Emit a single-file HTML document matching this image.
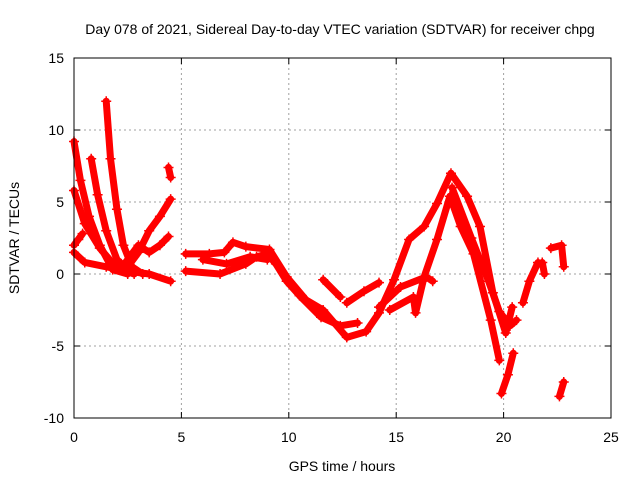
<!DOCTYPE html>
<html><head><meta charset="utf-8"><style>
body{margin:0;background:#fff;width:640px;height:480px;overflow:hidden}
svg text{font-family:"Liberation Sans",sans-serif;font-size:14px;fill:#000}
</style></head><body>
<svg id="c" width="640" height="480"></svg>
<script>
const xTicks=[0,5,10,15,20,25];
const yTicks=[-10,-5,0,5,10,15];
const trackA=[[0,9.2],[0.3,6.5],[0.7,4],[1.2,2],[1.8,0.3],[2.5,0]];
const trackB=[[0,5.8],[0.5,3.5],[1.2,1.8],[2,0.4],[2.8,0]];
const trackC=[[0.8,8],[1.1,5.5],[1.5,3],[2,1],[2.5,0.3]];
const trackD=[[1.5,12],[1.7,8],[2,4.5],[2.3,2],[2.7,0.5],[3.2,0]];
const trackE=[[0,1.5],[0.5,0.8],[1.5,0.5],[2.5,0.2],[3.5,0],[4.5,-0.5]];
const trackF=[[0,2],[0.4,2.8],[0.2,2.4]];
const trackG=[[2.5,0.5],[3,1.5],[3.5,3],[4,4],[4.5,5.2]];
const trackH=[[2.3,0.6],[3,2],[3.5,1.5],[4,2],[4.4,2.6]];
const trackI=[[4.4,7.4],[4.5,6.7]];
const trackJ=[[5.2,1.4],[6.3,1.4],[7.0,1.5],[7.4,2.2],[8.0,1.9],[9.1,1.7],[9.9,-0.2],[10.8,-1.8],[11.6,-2.5],[12.7,-4.4],[13.6,-4.0],[14.2,-2.7],[14.9,-0.4],[15.6,2.4],[16.3,3.3],[16.9,4.9],[17.55,7.0],[18.3,5.4],[18.9,3.3],[19.5,-1.3],[20.1,-4.1],[20.4,-2.3]];
const trackK=[[5.2,0.2],[6.8,0],[8.0,0.7],[8.5,1.2],[9.0,1.4],[9.4,0.7],[9.9,-0.5],[10.5,-1.5],[11.5,-3],[12.4,-3.6],[13.2,-3.4]];
const trackL=[[14.7,-2.5],[15.8,-1.6],[15.9,-2.7],[16.3,-0.2],[16.9,2.4],[17.5,5.4],[18.0,3.3],[18.6,1.4],[19.4,-3.2],[19.8,-6]];
const trackM=[[19.9,-8.3],[20.2,-7],[20.45,-5.5]];
const trackN=[[20.9,-2],[21.2,-0.5],[21.6,0.8]];
const trackO=[[21.8,0.8],[21.9,0]];
const trackP=[[22.2,1.8],[22.7,2],[22.8,0.5]];
const trackQ=[[22.6,-8.5],[22.8,-7.5]];
const trackR=[[14.2,-2.3],[15.2,-0.9],[16.4,-0.2],[16.7,-0.5]];
const trackS=[[11.6,-0.4],[12.4,-1.6]];
const trackT=[[12.7,-2],[13.5,-1.2],[14.2,-0.6]];
const trackU=[[6.0,1.0],[7.1,0.7],[8.2,1.2],[9.0,1.0]];
const trackV=[[17.6,6.0],[18.5,2.5],[19.3,-0.5],[19.8,-2.6],[20.3,-3.6],[20.6,-3.2]];
const tracks=[trackA,trackB,trackC,trackD,trackE,trackF,trackG,trackH,trackI,trackJ,trackK,trackL,trackM,trackN,trackO,trackP,trackQ,trackR,trackS,trackT,trackU,trackV];
const L=74,R=611,T=58,B=418;
const X=t=>L+t/25*(R-L), Y=v=>B-(v+10)/25*(B-T);
const s=document.getElementById('c'),NS='http://www.w3.org/2000/svg';
function mk(tag,a,txt){const e=document.createElementNS(NS,tag);for(const k in a)e.setAttribute(k,a[k]);if(txt!==undefined)e.textContent=txt;s.appendChild(e);return e;}
xTicks.forEach(t=>{
 if(t>0&&t<25){const g=mk('line',{x1:X(t),x2:X(t),y1:T,y2:B,stroke:'#a0a0a0','stroke-dasharray':'2,3'});
 
 }
 const l=mk('text',{x:X(t),y:B+24,'text-anchor':'middle'},t);
 
 
 mk('line',{x1:X(t),x2:X(t),y1:B,y2:B-6,stroke:'#000'});
 mk('line',{x1:X(t),x2:X(t),y1:T,y2:T+6,stroke:'#000'});
});
yTicks.forEach(v=>{
 if(v>-10&&v<15){const g=mk('line',{x1:L,x2:R,y1:Y(v),y2:Y(v),stroke:'#a0a0a0','stroke-dasharray':'2,3'});
 
 }
 const l=mk('text',{x:L-10,y:Y(v)+5,'text-anchor':'end'},v);
 
 
 mk('line',{x1:L,x2:L+6,y1:Y(v),y2:Y(v),stroke:'#000'});
 mk('line',{x1:R,x2:R-6,y1:Y(v),y2:Y(v),stroke:'#000'});
});
tracks.forEach(tr=>{
 const p=mk('polyline',{points:tr.map(d=>X(d[0])+','+Y(d[1])).join(' '),fill:'none',stroke:'#f00','stroke-width':7,'stroke-linejoin':'round','stroke-linecap':'round'});
 
 
 tr.forEach(d=>{
  const m=mk('path',{d:`M${X(d[0])-5},${Y(d[1])}h10M${X(d[0])},${Y(d[1])-5}v10`,stroke:'#f00','stroke-width':1.5});
  
  
 });
});
const bd=mk('rect',{x:L,y:T,width:R-L,height:B-T,fill:'none',stroke:'#000','stroke-width':1});


const ti=mk('text',{x:340,y:34,'text-anchor':'middle'},'Day 078 of 2021, Sidereal Day-to-day VTEC variation (SDTVAR) for receiver chpg');


const xl=mk('text',{x:342,y:471,'text-anchor':'middle'},'GPS time / hours');


const yl=mk('text',{x:0,y:0,'text-anchor':'middle',transform:'translate(19,238) rotate(-90)'},'SDTVAR / TECUs');


</script>
</body></html>
